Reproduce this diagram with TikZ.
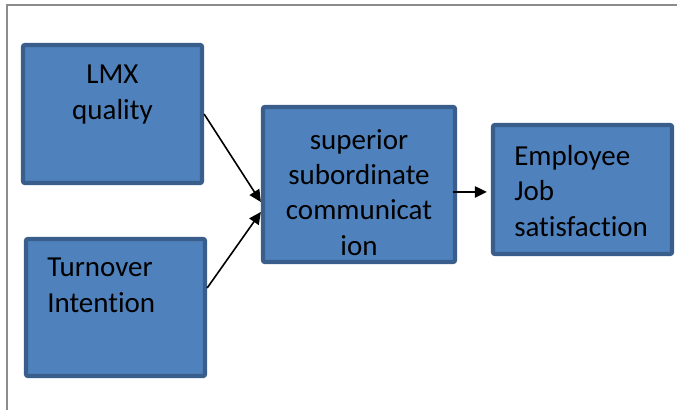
\documentclass[tikz,border=0pt]{standalone}
\usepackage{fontspec}
\setmainfont[Ligatures={NoCommon}]{Carlito}
\usetikzlibrary{positioning}
\usetikzlibrary{arrows.meta}
\definecolor{boxfill}{RGB}{79,129,189}
\definecolor{boxborder}{RGB}{58,94,140}
\definecolor{framegray}{RGB}{140,140,140}
\tikzset{
        % Blue boxes
        node_box/.style={rectangle, draw=boxborder, fill=boxfill, line width=3.2pt, rounded corners=1.5pt},
        % Texts in the boxes
        node_text/.style={inner sep=0pt, black, font=\fontsize{21.75}{26.5}\selectfont},
        % Connecting arrows
        link/.style={-{Triangle[length=9pt,width=8.5pt]}, line width=1.2pt, black}
}

\begin{document}
\begin{tikzpicture}[x=0.75pt, y=-0.75pt]
            \useasboundingbox (0,0) rectangle (677,410);
            % frame
            \draw[framegray, line width=1.5pt] (6.5,410) -- (6.5,5.5) -- (677,5.5);

            \node[node_box, minimum width=134.25pt, minimum height=103.5pt] (lmx) at (112.5,114) {};
            \node[node_box, minimum width=134.25pt, minimum height=102.75pt] (turnover) at (115.5,307.5) {};
            \node[node_box, minimum width=144pt, minimum height=116.25pt] (comm) at (359,184.5) {};
            \node[node_box, minimum width=134.25pt, minimum height=96.75pt] (jobsat) at (582.5,189.5) {};

            \node[node_text, anchor=north, align=center] (lmx_text) at (112.5,65) {LMX\\quality};
            \node[node_text, anchor=north west, align=left] (turnover_text) at (47,258) {Turnover\\Intention};
            \node[node_text, anchor=north, align=center] (comm_text) at (359,129) {superior\\subordinate\\communicat\\ion};
            \node[node_text, anchor=north west, align=left] (jobsat_text) at (514,145) {Employee\\Job\\satisfaction};

            \coordinate (comm_out) at ([yshift=-5.6pt]comm.east);
            \draw[link] (lmx.east) -- ([yshift=-13.1pt]comm.west);
            \draw[link] ([yshift=14.6pt]turnover.east) -- ([yshift=-20.6pt]comm.west);
            \draw[link, shorten >=3pt] ([xshift=-3pt]comm_out) -- (comm_out -| jobsat.west);
\end{tikzpicture}
\end{document}
